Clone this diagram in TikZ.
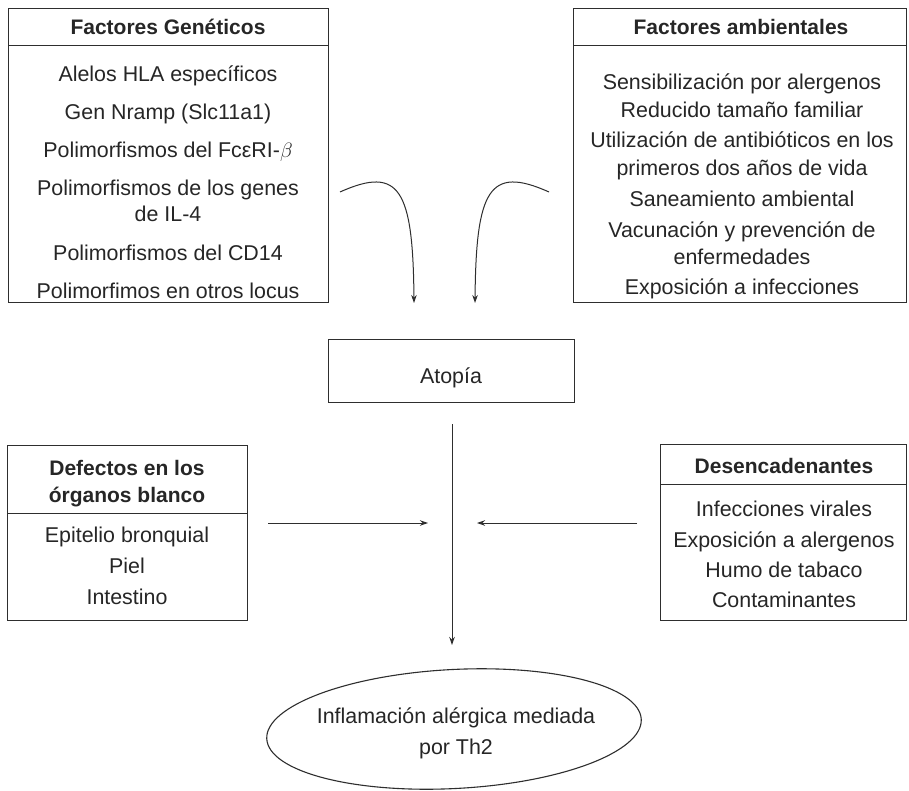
\documentclass[tikz,border=0pt]{standalone}
\usepackage{fontspec}
\setmainfont{Liberation Sans}
\usetikzlibrary{arrows.meta,shapes.geometric}
\definecolor{txt}{HTML}{262626}
\definecolor{ln}{HTML}{2E2E2E}
\begin{document}
\begin{tikzpicture}[x=1pt,y=-1pt,
  every node/.style={font=\fontsize{21.4}{25}\selectfont, text=txt, inner sep=0pt},
  frame/.style={draw=ln, line width=1.1pt, inner sep=0pt, anchor=north west},
  lbl/.style={anchor=base},
  hdr/.style={anchor=base, font=\fontsize{21}{25}\selectfont\bfseries},
  arr/.style={draw=ln, line width=1pt, -{Stealth[length=8pt,width=5.5pt]}}
]
\useasboundingbox (0,0) rectangle (909,791);
\fill[white] (0,0) rectangle (909,791);

% Factores geneticos
\node[frame, minimum width=320pt, minimum height=37pt] (genh) at (8,8) {};
\node[frame, minimum width=320pt, minimum height=257pt] (genb) at (8,45) {};
\node[hdr] (gent) at (168,34.5) {Factores Genéticos};
\node[lbl] (g1) at (168,82) {Alelos HLA específicos};
\node[lbl] (g2) at (168,120) {Gen Nramp (Slc11a1)};
\node[lbl] (g3) at (168,157.5) {Polimorfismos del Fcε{}RI-$\beta$};
\node[lbl] (g4) at (168,195.5) {Polimorfismos de los genes};
\node[lbl] (g5) at (168,221.5) {de IL-4};
\node[lbl] (g6) at (168,260.5) {Polimorfismos del CD14};
\node[lbl] (g7) at (168,298.5) {Polimorfimos en otros locus};

% Factores ambientales
\node[frame, minimum width=333pt, minimum height=37pt] (ambh) at (573,8) {};
\node[frame, minimum width=333pt, minimum height=257pt] (ambb) at (573,45) {};
\node[hdr] (ambt) at (741,34.5) {Factores ambientales};
\node[lbl] (a1) at (742,89.5) {Sensibilización por alergenos};
\node[lbl] (a2) at (742,117.5) {Reducido tamaño familiar};
\node[lbl] (a3) at (742,147.5) {Utilización de antibióticos en los};
\node[lbl] (a4) at (742,175.5) {primeros dos años de vida};
\node[lbl] (a5) at (742,207) {Saneamiento ambiental};
\node[lbl] (a6) at (742,237.5) {Vacunación y prevención de};
\node[lbl] (a7) at (742,264.5) {enfermedades};
\node[lbl] (a8) at (742,294.5) {Exposición a infecciones};

% Atopia
\node[frame, minimum width=246pt, minimum height=63pt] (atop) at (328,339) {};
\node[lbl] (atopt) at (451,383.5) {Atopía};

% Defectos
\node[frame, minimum width=240pt, minimum height=68pt] (defh) at (7,445) {};
\node[frame, minimum width=240pt, minimum height=107pt] (defb) at (7,513) {};
\node[hdr] (deft1) at (127,475.5) {Defectos en los};
\node[hdr] (deft2) at (127,502.5) {órganos blanco};
\node[lbl] (d1) at (127,542.5) {Epitelio bronquial};
\node[lbl] (d2) at (127,573.5) {Piel};
\node[lbl] (d3) at (127,604.5) {Intestino};

% Desencadenantes
\node[frame, minimum width=246pt, minimum height=40pt] (desh) at (660,444) {};
\node[frame, minimum width=246pt, minimum height=136pt] (desb) at (660,484) {};
\node[hdr] (dest) at (784,473.5) {Desencadenantes};
\node[lbl] (e1) at (784,516.5) {Infecciones virales};
\node[lbl] (e2) at (784,547) {Exposición a alergenos};
\node[lbl] (e3) at (784,577.5) {Humo de tabaco};
\node[lbl] (e4) at (784,607.5) {Contaminantes};

% Ellipse
\node[ellipse, draw=ln, line width=1.1pt, minimum width=375pt, minimum height=119pt, rotate=3] (infl) at (454,729) {};
\node[lbl] (i1) at (456,723.5) {Inflamación alérgica mediada};
\node[lbl] (i2) at (456,754) {por Th2};

% connectors
\coordinate (cl1) at (340,192);
\coordinate (cl2) at (414,303);
\coordinate (cr1) at (549,192);
\coordinate (cr2) at (475,303);
\draw[arr] (cl1) .. controls (400,165) and (413,190) .. (cl2);
\draw[arr] (cr1) .. controls (489,165) and (476,190) .. (cr2);

\coordinate (vtop) at (452,424);
\coordinate (vbot) at (452,645);
\draw[arr] (vtop) -- (vbot);

\coordinate (hl1) at (268,523);
\coordinate (hl2) at (428,523);
\draw[arr] (hl1) -- (hl2);
\coordinate (hr1) at (637,523);
\coordinate (hr2) at (477,523);
\draw[arr] (hr1) -- (hr2);
\end{tikzpicture}
\end{document}
